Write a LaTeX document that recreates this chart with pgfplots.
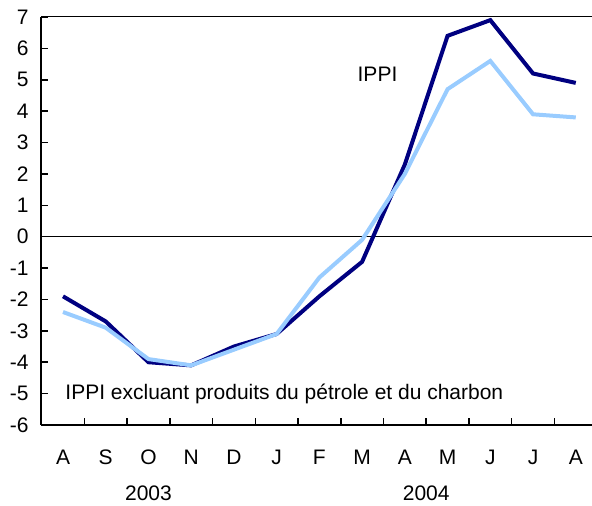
\documentclass[border=0pt]{standalone}
\usepackage{pgfplots}
\pgfplotsset{compat=1.18}
\usepackage{fontspec}
\setmainfont{Liberation Sans}
\definecolor{dark}{RGB}{0,0,128}
\definecolor{light}{RGB}{153,204,255}
\newcommand{\fs}{\fontsize{21}{24}\selectfont}
\begin{document}
\begin{tikzpicture}[x=1pt,y=1pt]
\path[use as bounding box] (0,0) rectangle (592,506);
\begin{axis}[
  at={(41pt,81pt)}, anchor=south west,
  scale only axis, width=551pt, height=408pt,
  xmin=-0.515, xmax=12.38, ymin=-6, ymax=7,
  axis x line*=bottom, axis y line*=left,
  axis line style={line width=2pt, -, black},
  clip=false,
  font=\fs,
  /pgf/number format/assume math mode=true,
  ytick={-6,...,7},
  xtick={0,...,12},
  xticklabels={A,S,O,N,D,J,F,M,A,M,J,J,A},
  minor xtick={0.5,1.5,...,11.5},
  tick align=inside,
  major tick length=7pt, minor tick length=7pt,
  tick style={black, line width=1.5pt},
  major x tick style={draw=none},
  xticklabel style={anchor=base, yshift=-39.5pt},
  yticklabel style={anchor=east, xshift=-9pt},
]
\draw[line width=1pt] (axis cs:-0.515,7) -- (axis cs:12.38,7);
\draw[line width=1pt] (axis cs:-0.515,0) -- (axis cs:12.38,0);
\addplot[dark, line width=4pt, line join=miter] coordinates {
(0,-1.9) (1,-2.7) (2,-4.0) (3,-4.1) (4,-3.5) (5,-3.1) (6,-1.9) (7,-0.8) (8,2.3) (9,6.4) (10,6.9) (11,5.2) (12,4.9)};
\addplot[light, line width=4pt, line join=miter] coordinates {
(0,-2.4) (1,-2.9) (2,-3.9) (3,-4.1) (4,-3.6) (5,-3.1) (6,-1.3) (7,-0.1) (8,2.0) (9,4.7) (10,5.6) (11,3.9) (12,3.8)};
\node[font=\fs, anchor=base] at (axis cs:7.36,4.94) {IPPI};
\node[font=\fs, anchor=base] at (axis cs:5.18,-5.2) {IPPI excluant produits du pétrole et du charbon};
\node[font=\fs, anchor=base, inner sep=0pt] at (axis cs:2,-6) [yshift=-76pt] {2003};
\node[font=\fs, anchor=base, inner sep=0pt] at (axis cs:8.5,-6) [yshift=-76pt] {2004};
\end{axis}
\end{tikzpicture}
\end{document}
